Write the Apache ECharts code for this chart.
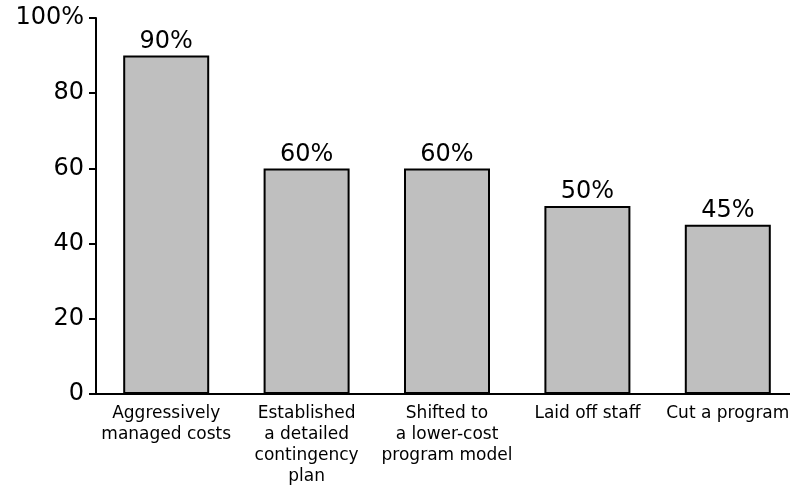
<!DOCTYPE html>
<html>
<head>
<meta charset="utf-8">
<script src="https://cdn.jsdelivr.net/npm/echarts@6/dist/echarts.min.js"></script>
<style>
html, body { margin: 0; padding: 0; background: #fff; overflow: hidden; }
#container { width: 800px; height: 487px; }
</style>
</head>
<body>
<div id="container"></div>
<script>
var categories = [
    'Aggressively\nmanaged costs',
    'Established\na detailed\ncontingency\nplan',
    'Shifted to\na lower-cost\nprogram model',
    'Laid off staff',
    'Cut a program'
];
var values = [90, 60, 60, 50, 45];
var yTicks = [0, 20, 40, 60, 80, 100];

var myChart = echarts.init(document.getElementById('container'));
var option = {
    animation: false,
    textStyle: { fontFamily: 'DejaVu Sans' },
    grid: {
        left: 96,
        right: 2,
        top: 18,
        bottom: 90
    },
    xAxis: {
        type: 'category',
        data: categories,
        axisLine: { lineStyle: { color: '#000', width: 2 } },
        axisTick: { show: false },
        axisLabel: {
            color: '#000',
            fontSize: 17,
            lineHeight: 21,
            margin: 9,
            interval: 0
        }
    },
    yAxis: {
        type: 'value',
        min: yTicks[0],
        max: yTicks[yTicks.length - 1],
        interval: 20,
        axisLine: { show: true, lineStyle: { color: '#000', width: 2 } },
        axisTick: { show: true, length: 7, lineStyle: { color: '#000', width: 2 } },
        splitLine: { show: false },
        axisLabel: {
            color: '#000',
            fontSize: 24,
            margin: 12,
            formatter: function (v) { return v === 100 ? '100%' : String(v); }
        }
    },
    series: [
        {
            type: 'bar',
            data: values,
            barWidth: 86,
            itemStyle: { color: '#bfbfbf', borderColor: '#000', borderWidth: 2 },
            label: {
                show: true,
                position: 'top',
                distance: 2,
                color: '#000',
                fontSize: 24,
                formatter: '{c}%'
            }
        }
    ]
};
myChart.setOption(option, true);
window.onresize = function () {
    myChart.resize();
};
</script>
</body>
</html>
